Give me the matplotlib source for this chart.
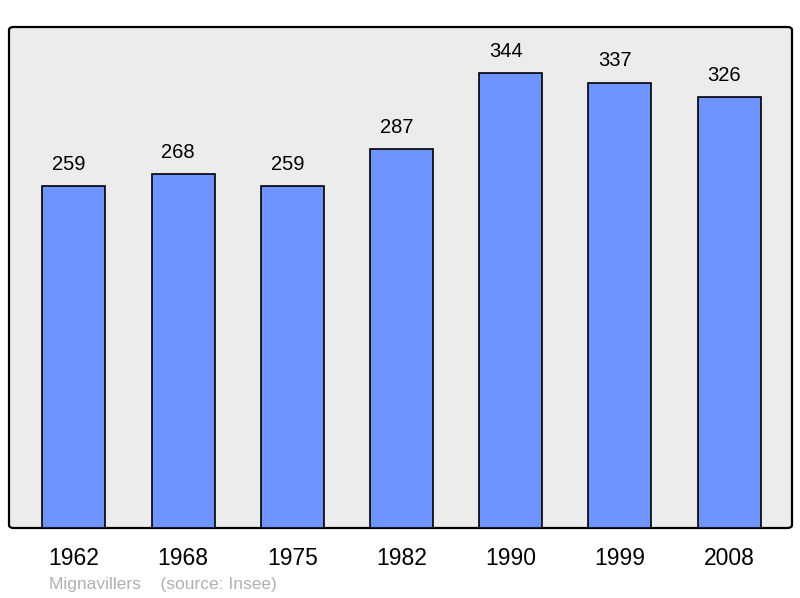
import matplotlib.pyplot as plt
from matplotlib.patches import FancyBboxPatch

# population data (Insee)
years = ["1962", "1968", "1975", "1982", "1990", "1999", "2008"]
population = [259, 268, 259, 287, 344, 337, 326]
town = "Mignavillers"
source = "(source: Insee)"

plt.rcParams["font.family"] = ["Liberation Sans", "DejaVu Sans"]

fig = plt.figure(figsize=(8, 5.98), dpi=100)
ax = fig.add_axes([9 / 800, 70 / 598, 783 / 800, 501 / 598])
ax.set_facecolor("none")

# rounded frame behind the plot
frame = FancyBboxPatch((0, 0), 1, 1, boxstyle="round,pad=0,rounding_size=0.006",
                       transform=ax.transAxes, facecolor="#ececec",
                       edgecolor="black", linewidth=1.6, zorder=0, clip_on=False)
ax.add_patch(frame)

x = list(range(len(years)))
bars = ax.bar(x, population, width=0.576, color="#7094ff",
              edgecolor="black", linewidth=1.2, zorder=2)

for xi, v in zip(x, population):
    ax.annotate(str(v), (xi, v), xytext=(-3.5, 15.5), textcoords="offset points",
                ha="center", va="center", fontsize=14.5, color="black")

ax.set_xlim(-0.594, 6.576)
ax.set_ylim(0, 379)
ax.set_xticks(x)
ax.set_xticklabels(years, fontsize=16.5)
ax.tick_params(axis="x", length=0, pad=14)
ax.set_yticks([])
for s in ax.spines.values():
    s.set_visible(False)

fig.text(49 / 800, 1 - 585 / 598, town + "    " + source, fontsize=12.5,
         color="#b0b0b0", ha="left", va="center")

fig.savefig("out.png", dpi=100)
